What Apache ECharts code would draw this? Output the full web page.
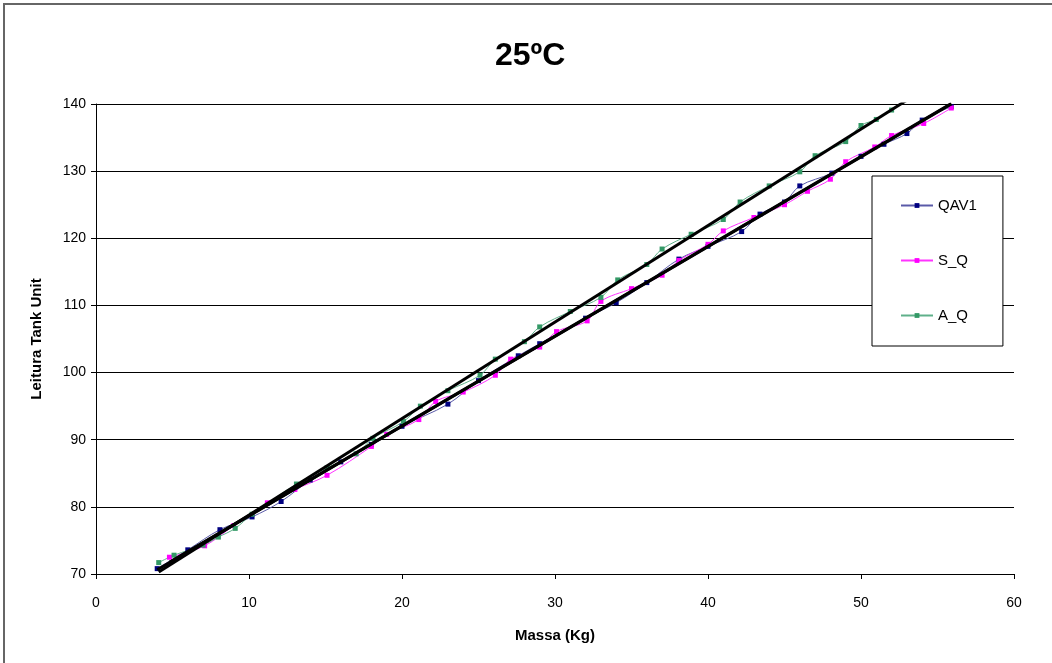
<!DOCTYPE html>
<html>
<head>
<meta charset="utf-8">
<script src="https://cdn.jsdelivr.net/npm/echarts@6/dist/echarts.min.js"></script>
<style>
html,body{margin:0;padding:0;background:#fff;}
#chart{width:1052px;height:663px;}
</style>
</head>
<body>
<div id="chart"></div>
<script>
// ---- data ----
var title = '25ºC';
var xName = 'Massa (Kg)';
var yName = 'Leitura Tank Unit';
var xTicks = [0, 10, 20, 30, 40, 50, 60];
var yTicks = [70, 80, 90, 100, 110, 120, 130, 140];
var seriesNames = ['QAV1', 'S_Q', 'A_Q'];

var QAV1 = [[4.0,70.8],[6.0,73.6],[8.1,76.6],[10.2,78.5],[12.1,80.8],[14.0,84.0],[16.0,86.7],[18.0,89.3],[20.0,92.0],[23.0,95.3],[25.0,98.8],[27.6,102.5],[29.0,104.3],[32.0,108.1],[34.0,110.4],[36.0,113.4],[38.1,116.9],[40.0,118.8],[42.2,121.0],[43.4,123.6],[45.0,125.4],[46.0,127.8],[48.1,129.7],[50.0,132.2],[51.5,134.0],[53.0,135.6],[54.0,137.6],[55.9,139.6]];

var S_Q = [[4.8,72.5],[7.1,74.2],[9.0,77.2],[11.2,80.6],[13.0,82.6],[15.1,84.7],[18.0,89.0],[19.0,90.8],[21.1,93.0],[22.2,95.7],[24.0,97.1],[26.1,99.6],[27.1,102.0],[29.0,103.8],[30.1,106.1],[32.1,107.7],[33.0,110.6],[35.0,112.5],[37.0,114.5],[38.1,116.7],[40.0,119.1],[41.0,121.1],[43.0,123.1],[45.0,125.0],[46.5,127.0],[48.0,128.8],[49.0,131.4],[50.9,133.6],[52.0,135.3],[54.1,137.1],[55.9,139.4]];

var A_Q = [[4.1,71.7],[5.1,72.8],[7.0,74.3],[8.0,75.5],[9.1,76.8],[10.2,78.9],[13.1,83.4],[15.1,85.8],[17.0,87.9],[18.1,90.2],[20.1,92.7],[21.2,95.0],[23.0,97.3],[25.1,99.6],[26.1,102.0],[28.0,104.6],[29.0,106.8],[31.0,109.1],[33.0,111.2],[34.1,113.8],[36.0,116.1],[37.0,118.4],[38.9,120.6],[41.0,122.8],[42.1,125.4],[44.0,127.8],[46.0,129.9],[47.0,132.3],[49.0,134.4],[50.0,136.8],[51.0,137.7],[52.0,139.1],[53.0,140.6]];

var colors = {QAV1:'#000080', S_Q:'#ff00ff', A_Q:'#339966'};
var lineColors = {QAV1:'#5a5aa8', S_Q:'#ff33ff', A_Q:'#5fb08a'};

// linear least-squares trendline over the series' x-range
function trend(d){
  var n=d.length,sx=0,sy=0,sxx=0,sxy=0,mn=Infinity,mx=-Infinity;
  d.forEach(function(p){sx+=p[0];sy+=p[1];sxx+=p[0]*p[0];sxy+=p[0]*p[1];mn=Math.min(mn,p[0]);mx=Math.max(mx,p[0]);});
  var b=(n*sxy-sx*sy)/(n*sxx-sx*sx), a=(sy-b*sx)/n;
  return [[mn,a+b*mn],[mx,a+b*mx]];
}

var dataMap = {QAV1:QAV1, S_Q:S_Q, A_Q:A_Q};
var series = [];
seriesNames.forEach(function(nm){
  series.push({
    name:nm, type:'line', data:dataMap[nm], smooth:0.35,
    symbol:'rect', symbolSize:5, showSymbol:true,
    itemStyle:{color:colors[nm]},
    lineStyle:{color:lineColors[nm], width:1},
    z:2, animation:false
  });
});
seriesNames.forEach(function(nm){
  series.push({
    name:nm+' trend', type:'line', data:trend(dataMap[nm]),
    symbol:'none', lineStyle:{color:'#000', width:3},
    z:5, animation:false, silent:true
  });
});

var chart = echarts.init(document.getElementById('chart'), null, {renderer:'canvas'});
chart.setOption({
  backgroundColor:'#fff',
  animation:false,
  title:{text:title, left:490, top:35,
    textStyle:{fontFamily:'Liberation Sans', fontSize:32, fontWeight:'bold', color:'#000'}},
  graphic:[{type:'rect', shape:{x:4, y:4, width:1120, height:720},
    style:{fill:'none', stroke:'#666', lineWidth:2}, z:-1, silent:true}],
  legend:{
    data:seriesNames, orient:'vertical', left:872, top:176,
    backgroundColor:'#fff', borderColor:'#000', borderWidth:1,
    padding:[22, 26, 23, 28], itemGap:40, itemWidth:32, itemHeight:6,
    textStyle:{fontFamily:'Liberation Sans', fontSize:15, color:'#000'}
  },
  grid:{left:96, right:38, top:104, bottom:89, containLabel:false},
  xAxis:{
    type:'value', min:0, max:60, interval:10,
    name:xName, nameLocation:'middle', nameGap:54,
    nameTextStyle:{fontFamily:'Liberation Sans', fontSize:15, fontWeight:'bold', color:'#000'},
    axisLine:{show:true, lineStyle:{color:'#000', width:1}},
    axisTick:{show:true, length:5, lineStyle:{color:'#000'}},
    axisLabel:{margin:22, fontFamily:'Liberation Sans', fontSize:14, color:'#000',
      formatter:function(v){return xTicks.indexOf(v)>=0? String(v):'';}},
    splitLine:{show:false}
  },
  yAxis:{
    type:'value', min:70, max:140, interval:10,
    name:yName, nameLocation:'middle', nameGap:52, nameRotate:90,
    nameTextStyle:{fontFamily:'Liberation Sans', fontSize:15, fontWeight:'bold', color:'#000'},
    axisLine:{show:true, lineStyle:{color:'#000', width:1}},
    axisTick:{show:true, length:5, lineStyle:{color:'#000'}},
    axisLabel:{margin:10, fontFamily:'Liberation Sans', fontSize:14, color:'#000',
      formatter:function(v){return yTicks.indexOf(v)>=0? String(v):'';}},
    splitLine:{show:true, lineStyle:{color:'#000', width:1}}
  },
  series:series
});
</script>
</body>
</html>
